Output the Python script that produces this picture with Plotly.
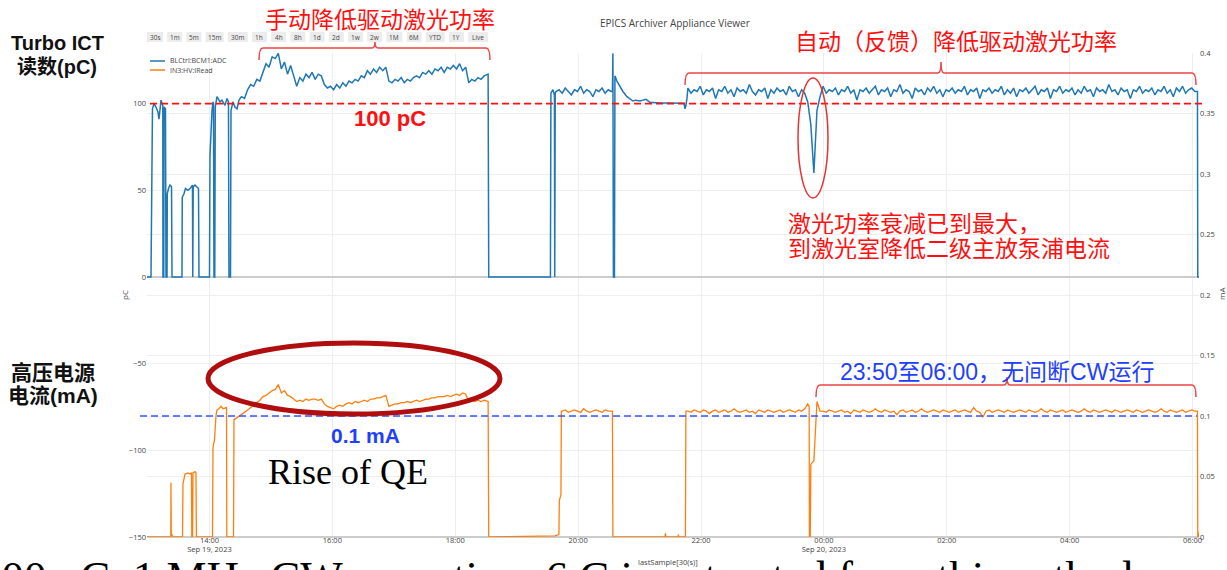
import numpy as np
import pandas as pd
import plotly.graph_objects as go

DAY0 = pd.Timestamp("2023-09-19 00:00:00")
STEP_H = 0.05  # spacing (hours) of the dense archiver stretches

# ---------------- BLCtrl:BCM1:ADC  (Turbo ICT charge, pC) ----------------
BCM_EARLY_H = [12.983, 13.048, 13.072, 13.097, 13.129, 13.162, 13.178, 13.194, 13.211, 13.240,
               13.243, 13.256, 13.260, 13.284, 13.292, 13.309, 13.313, 13.333, 13.357, 13.382,
               13.390, 13.552, 13.557, 13.585, 13.609, 13.650, 13.683, 13.723, 13.728, 13.735,
               13.764, 13.797, 13.821, 13.829, 14.000, 14.008, 14.024, 14.041, 14.057, 14.065,
               14.073, 14.086, 14.094, 14.122, 14.171, 14.203, 14.252, 14.285, 14.309, 14.317,
               14.342, 14.350, 14.382, 14.415, 14.448, 14.480]
BCM_EARLY_PC = [0, 0, 97, 100, 98, 95, 91, 96, 102, 99,
                0, 0, 98, 97, 0, 0, 48, 51, 53, 52,
                0, 0, 46, 48, 51, 50, 51, 53, 0, 52,
                53, 52, 51, 0, 0, 70, 84, 96, 101, 100,
                0, 0, 98, 104, 101, 102, 99, 103, 101, 0,
                0, 96, 101, 98, 97, 102]
BCM_RAMP_T0 = 14.52
BCM_RAMP_PC = [104, 103, 108, 111, 110, 114, 113, 118, 123, 121,
               127, 126, 129, 120, 124, 117, 122, 116, 110, 115,
               113, 117, 115, 118, 114, 117, 116, 111, 109, 110,
               108, 111, 109, 112, 110, 113, 112, 114, 113, 116,
               115, 119, 117, 120, 118, 121, 119, 121, 113, 112,
               114, 113, 115, 112, 114, 113, 115, 116, 115, 118,
               117, 119, 117, 120, 119, 121, 118, 121, 120, 122,
               120, 123, 119, 121, 112, 114, 113, 115, 114, 116,
               117]
BCM_MID_H = [18.535, 18.545, 19.549, 19.557, 19.590, 19.614, 19.619, 19.627]
BCM_MID_PC = [117, 0, 0, 106, 108, 105, 0, 106]
BCM_EVE_T0 = 19.64
BCM_EVE_PC = [107, 108, 106, 109, 107, 105, 108, 107, 110, 106,
              108, 107, 104, 108, 107, 109, 106, 108, 107]
BCM_GAP_H = [20.558, 20.566, 20.574, 20.591, 20.599, 20.631, 20.680, 20.729, 20.794, 20.843,
             20.892, 20.941, 21.006, 21.055, 21.104, 21.169, 21.250, 21.332, 21.495, 21.658,
             21.723, 21.739, 21.755, 21.771]
BCM_GAP_PC = [107, 129, 0, 0, 116, 113, 110, 107, 104, 103,
              101.5, 102, 101.5, 102, 102.5, 100.8, 100.5, 100.4, 100.3, 100.3,
              100.2, 97, 99, 103]
BCM_CW_T0 = 21.787
BCM_CW_PC = [109, 106, 108, 107, 110, 105, 108, 107, 109, 103,
             108, 107, 110, 106, 108, 104, 109, 107, 108, 106,
             111, 107, 105, 108, 107, 109, 103, 108, 106, 109,
             107, 108, 105, 110, 107, 108, 104, 108, 106, 101,
             88, 60, 96, 104, 110, 106, 108, 107, 109, 105,
             108, 107, 110, 106, 108, 102, 108, 107, 109, 106,
             108, 110, 105, 108, 107, 109, 104, 108, 107, 111,
             106, 108, 107, 103, 109, 107, 108, 105, 109, 107,
             110, 106, 108, 104, 108, 107, 109, 106, 108, 107,
             110, 105, 108, 107, 109, 103, 108, 107, 109, 106,
             108, 107, 110, 105, 108, 106, 109, 104, 108, 107,
             109, 106, 108, 110, 105, 108, 107, 109, 103, 108,
             107, 110, 106, 108, 107, 109, 105, 108, 106, 110,
             107, 108, 104, 109, 107, 108, 106, 111, 107, 108,
             105, 109, 107, 108, 103, 108, 107, 110, 106, 108,
             107, 109, 105, 108, 107, 110, 106, 108, 104, 109,
             107, 110, 106, 108, 109, 107]
BCM_END_H = [30.08, 30.085, 30.105]
BCM_END_PC = [107, 0, 0]

# ---------------- IN3:HV:IRead  (HV supply current, mA) ----------------
HV_EARLY_H = [12.983, 13.370, 13.373, 13.378, 13.406, 13.561, 13.569, 13.585, 13.601, 13.650,
              13.683, 13.707, 13.712, 13.725, 13.731, 13.764, 13.780, 13.787, 14.049, 14.057,
              14.081, 14.106, 14.122, 14.155, 14.187, 14.220, 14.277, 14.282, 14.391, 14.399,
              14.431, 14.464, 14.496]
HV_EARLY_MA = [0, 0, 0.045, 0.003, 0, 0, 0.044, 0.050, 0.052, 0.053,
               0.052, 0.053, 0, 0, 0.053, 0.054, 0.053, 0, 0, 0.074,
               0.080, 0.100, 0.105, 0.106, 0.108, 0.106, 0.107, 0, 0, 0.097,
               0.098, 0.099, 0.100]
HV_RAMP_T0 = 14.52
HV_RAMP_MA = [0.101, 0.103, 0.105, 0.107, 0.109, 0.111, 0.113, 0.116, 0.117, 0.119,
              0.121, 0.122, 0.126, 0.119, 0.121, 0.117, 0.116, 0.114, 0.112, 0.113,
              0.112, 0.114, 0.113, 0.114, 0.114, 0.113, 0.114, 0.110, 0.108, 0.107,
              0.106, 0.108, 0.109, 0.108, 0.110, 0.111, 0.110, 0.112, 0.111, 0.112,
              0.113, 0.112, 0.114, 0.114, 0.115, 0.115, 0.116, 0.117, 0.108, 0.109,
              0.110, 0.110, 0.111, 0.111, 0.112, 0.111, 0.112, 0.113, 0.112, 0.113,
              0.114, 0.114, 0.115, 0.115, 0.116, 0.116, 0.116, 0.117, 0.116, 0.117,
              0.118, 0.117, 0.119, 0.118, 0.112, 0.113, 0.112, 0.113, 0.112, 0.113,
              0.112]
HV_MID_H = [18.535, 18.545, 19.622, 19.687, 19.694, 19.720, 19.727]
HV_MID_MA = [0.112, 0, 0.001, 0.002, 0.030, 0.035, 0.104]
HV_EVE_T0 = 19.74
HV_EVE_MA = [0.104, 0.105, 0.103, 0.104, 0.105, 0.104, 0.103, 0.106, 0.104, 0.103,
             0.104, 0.105, 0.104, 0.103, 0.105, 0.104, 0.104]
HV_GAP_H = [20.558, 20.566, 21.413, 21.421, 21.429, 21.624, 21.632, 21.640, 21.746, 21.754]
HV_GAP_MA = [0.104, 0, 0, 0.003, 0, 0, 0.002, 0, 0, 0.104]
HV_CW_T0 = 21.787
HV_CW_MA = [0.104, 0.103, 0.105, 0.104, 0.103, 0.105, 0.104, 0.102, 0.104, 0.105,
            0.103, 0.104, 0.105, 0.103, 0.104, 0.106, 0.104, 0.103, 0.104, 0.105,
            0.103, 0.104, 0.102, 0.105, 0.104, 0.103, 0.105, 0.104, 0.103, 0.104,
            0.105, 0.103, 0.104, 0.105, 0.104, 0.103, 0.105, 0.104, 0.106, 0.110,
            0.060, 0.063, 0.112, 0.104, 0.104, 0.103, 0.105, 0.104, 0.103, 0.104,
            0.105, 0.103, 0.104, 0.102, 0.105, 0.104, 0.103, 0.105, 0.104, 0.103,
            0.104, 0.106, 0.104, 0.103, 0.105, 0.104, 0.103, 0.104, 0.101, 0.104,
            0.105, 0.103, 0.104, 0.105, 0.103, 0.104, 0.106, 0.104, 0.103, 0.104,
            0.105, 0.104, 0.103, 0.105, 0.104, 0.103, 0.104, 0.105, 0.103, 0.104,
            0.105, 0.104, 0.103, 0.107, 0.104, 0.103, 0.099, 0.104, 0.105, 0.103,
            0.104, 0.105, 0.104, 0.103, 0.105, 0.104, 0.103, 0.104, 0.105, 0.104,
            0.103, 0.105, 0.104, 0.103, 0.104, 0.106, 0.104, 0.103, 0.105, 0.104,
            0.103, 0.104, 0.105, 0.103, 0.104, 0.105, 0.104, 0.103, 0.104, 0.106,
            0.104, 0.103, 0.105, 0.104, 0.103, 0.104, 0.105, 0.104, 0.103, 0.105,
            0.104, 0.103, 0.104, 0.105, 0.104, 0.103, 0.105, 0.104, 0.103, 0.104,
            0.105, 0.104, 0.103, 0.104, 0.106, 0.104, 0.103, 0.105, 0.104, 0.103,
            0.104, 0.105, 0.103, 0.104, 0.105, 0.104]
HV_DIP_H = [23.760, 23.764, 23.778, 23.782]
HV_DIP_MA = [0.108, 0, 0, 0.060]
HV_END_H = [30.08, 30.085, 30.092, 30.097, 30.105]
HV_END_MA = [0.104, 0, 0.004, 0, 0]

X_RANGE_H = [12.983, 30.105]
PC_RANGE = [-150, 129.2]
MA_RANGE = [0, 0.4]

RANGE_BUTTONS = ["30s", "1m", "5m", "15m", "30m", "1h", "4h", "8h", "1d", "2d",
                 "1w", "2w", "1M", "6M", "YTD", "1Y", "Live"]
BUTTON_W = [16, 15, 15, 18, 20, 15, 15, 15, 15, 15, 15, 15, 16, 15, 19, 15, 20]


def regular(t0, vals):
    return [t0 + STEP_H * i for i in range(len(vals))]


def assemble(parts):
    hrs, vals = [], []
    for h, v in parts:
        assert len(h) == len(v), (len(h), len(v))
        hrs += list(h)
        vals += list(v)
    order = np.argsort(np.asarray(hrs), kind="stable")
    t = DAY0 + pd.to_timedelta(np.asarray(hrs)[order], unit="h")
    return t, np.asarray(vals, dtype=float)[order]


bcm_t, bcm_v = assemble([
    (BCM_EARLY_H, BCM_EARLY_PC),
    (regular(BCM_RAMP_T0, BCM_RAMP_PC), BCM_RAMP_PC),
    (BCM_MID_H, BCM_MID_PC),
    (regular(BCM_EVE_T0, BCM_EVE_PC), BCM_EVE_PC),
    (BCM_GAP_H, BCM_GAP_PC),
    (regular(BCM_CW_T0, BCM_CW_PC), BCM_CW_PC),
    (BCM_END_H, BCM_END_PC),
])
hv_t, hv_v = assemble([
    (HV_EARLY_H, HV_EARLY_MA),
    (regular(HV_RAMP_T0, HV_RAMP_MA), HV_RAMP_MA),
    (HV_MID_H, HV_MID_MA),
    (regular(HV_EVE_T0, HV_EVE_MA), HV_EVE_MA),
    (HV_GAP_H, HV_GAP_MA),
    (regular(HV_CW_T0, HV_CW_MA), HV_CW_MA),
    (HV_DIP_H, HV_DIP_MA),
    (HV_END_H, HV_END_MA),
])

# ---------------- page geometry ----------------
W, H = 1227, 570
PL, PR, PT, PB = 147, 1199, 53, 537


def px(x):
    return (x - PL) / (PR - PL)


def py(y):
    return (PB - y) / (PB - PT)


SANS = "Liberation Sans, Noto Sans CJK SC, sans-serif"
CJK = "Noto Sans CJK SC, Liberation Sans, sans-serif"
SERIF = "Liberation Serif, serif"
UI = "Open Sans, sans-serif"
RED = "#FF1010"
BRACE_RED = "#EE4444"
BLUE_TXT = "#1F3FFF"
GREY_TXT = "#444444"

fig = go.Figure()
fig.add_trace(go.Scatter(x=bcm_t, y=bcm_v, mode="lines", name="BLCtrl:BCM1:ADC",
                         line=dict(color="#1f77b4", width=1.5), yaxis="y"))
fig.add_trace(go.Scatter(x=hv_t, y=hv_v, mode="lines", name="IN3:HV:IRead",
                         line=dict(color="#ff7f0e", width=1.3), yaxis="y2"))

shapes = []
annotations = []


def text(t, x, y, size, color, family=SANS, xanchor="center", yanchor="middle", angle=0,
         box_h=None):
    ann = dict(text=t, x=px(x), y=py(y), xref="paper", yref="paper",
               showarrow=False, xanchor=xanchor, yanchor=yanchor,
               textangle=angle, font=dict(size=size, color=color, family=family))
    if box_h is not None:
        ann["height"] = box_h
    annotations.append(ann)


def brace(x0, x1, xm, ybar, yend, ypeak, color=BRACE_RED, r=4, d=3):
    pts = [
        f"M {px(x0)},{py(yend)}",
        f"Q {px(x0)},{py(ybar)} {px(x0 + r)},{py(ybar)}",
        f"L {px(xm - d)},{py(ybar)}",
        f"Q {px(xm)},{py(ybar)} {px(xm)},{py(ypeak)}",
        f"Q {px(xm)},{py(ybar)} {px(xm + d)},{py(ybar)}",
        f"L {px(x1 - r)},{py(ybar)}",
        f"Q {px(x1)},{py(ybar)} {px(x1)},{py(yend)}",
    ]
    shapes.append(dict(type="path", path=" ".join(pts), xref="paper", yref="paper",
                       line=dict(color=color, width=1.5)))


# viewer chrome: title, range buttons, legend, axis titles
text("EPICS Archiver Appliance Viewer", 675, 23, 10, GREY_TXT, family=UI)
bx = PL
for lab, bw in zip(RANGE_BUTTONS, BUTTON_W):
    shapes.append(dict(type="rect", xref="paper", yref="paper",
                       x0=px(bx), x1=px(bx + bw), y0=py(42), y1=py(32),
                       fillcolor="#ECECEC", line=dict(width=0)))
    text(lab, bx + bw / 2, 37, 6.5, GREY_TXT, family=UI)
    bx += bw + 4.2

for i, (name, col) in enumerate([("BLCtrl:BCM1:ADC", "#1f77b4"), ("IN3:HV:IRead", "#ff7f0e")]):
    yy = 61 + 9 * i
    shapes.append(dict(type="line", xref="paper", yref="paper", x0=px(150), x1=px(165),
                       y0=py(yy), y1=py(yy), line=dict(color=col, width=1.5)))
    text(name, 168, yy, 7, GREY_TXT, family=UI, xanchor="left")

text("pC", 124, 295, 8, GREY_TXT, family=UI, angle=-90)
text("mA", 1221, 294, 8, GREY_TXT, family=UI, angle=-90)
text("lastSample[30(s)]", 668, 562, 7.5, GREY_TXT, family=UI)

# reference levels
shapes.append(dict(type="line", xref="paper", yref="y", x0=px(150), x1=px(1205), y0=100, y1=100,
                   line=dict(color=RED, width=1.6, dash="7px,4px")))
shapes.append(dict(type="line", xref="paper", yref="y2", x0=px(140), x1=px(1197), y0=0.1, y1=0.1,
                   line=dict(color="#3355FF", width=1.6, dash="7px,4px")))

# slide call-outs
text("<b>Turbo ICT</b>", 57, 43, 20, "#111111")
text("<b>读数(pC)</b>", 57, 67, 20, "#111111")
text("<b>高压电源</b>", 53, 372, 21, "#111111")
text("<b>电流(mA)</b>", 53, 395, 21, "#111111")

text("手动降低驱动激光功率", 380, 18, 23, RED, family=CJK)
brace(259, 490, 375, 48, 60, 42)
text("<b>100 pC</b>", 390, 118, 22, RED)

text("自动（反馈）降低驱动激光功率", 956, 40, 23, RED, family=CJK)
brace(685, 1196, 941, 73, 85, 62)

shapes.append(dict(type="circle", xref="paper", yref="paper", x0=px(798), x1=px(828),
                   y0=py(198), y1=py(78), line=dict(color="#E83232", width=1.5)))
text("激光功率衰减已到最大，", 786, 222, 23, RED, family=CJK, xanchor="left", box_h=24)
text("到激光室降低二级主放泵浦电流", 786, 247, 23, RED, family=CJK, xanchor="left", box_h=24)

shapes.append(dict(type="circle", xref="paper", yref="paper", x0=px(208), x1=px(500),
                   y0=py(414), y1=py(343), line=dict(color="#B00E0E", width=5)))
text("<b>0.1 mA</b>", 365, 435, 21, BLUE_TXT)
text("Rise of QE", 348, 472, 36, "#000000", family=SERIF)

text("23:50至06:00，无间断CW运行", 997, 372, 23, BLUE_TXT, family=SANS)
brace(816, 1196, 1007, 385, 397, 377)

# caption line of the slide, running off the bottom edge
text("100 pC, 1 MHz CW operation, 6 C is extracted from this cathode",
     -23, 577, 45, "#000000", family=SERIF, xanchor="left")

axis_font = dict(size=7.5, color=GREY_TXT, family=UI)
fig.update_layout(
    width=W, height=H,
    margin=dict(l=PL, r=W - PR, t=PT, b=H - PB, pad=0),
    paper_bgcolor="white", plot_bgcolor="white",
    showlegend=False,
    xaxis=dict(type="date",
               range=[DAY0 + pd.Timedelta(hours=X_RANGE_H[0]), DAY0 + pd.Timedelta(hours=X_RANGE_H[1])],
               dtick=2 * 3600 * 1000, tick0="2023-09-19 00:00",
               showgrid=True, gridcolor="#EEEEEE", gridwidth=1,
               showline=False, zeroline=False, ticks="", tickfont=axis_font, automargin=False,
               ticklabelstandoff=-3),
    yaxis=dict(range=PC_RANGE, dtick=50, showgrid=True, gridcolor="#EEEEEE",
               zeroline=True, zerolinecolor="#CCCCCC", zerolinewidth=2,
               ticks="", tickfont=axis_font, automargin=False),
    yaxis2=dict(range=MA_RANGE, dtick=0.05, overlaying="y", side="right",
                showgrid=True, gridcolor="#EEEEEE",
                zeroline=True, zerolinecolor="#CCCCCC", zerolinewidth=2,
                ticks="", tickfont=axis_font, automargin=False),
    shapes=shapes,
    annotations=annotations,
)

fig.write_html("out.html")
